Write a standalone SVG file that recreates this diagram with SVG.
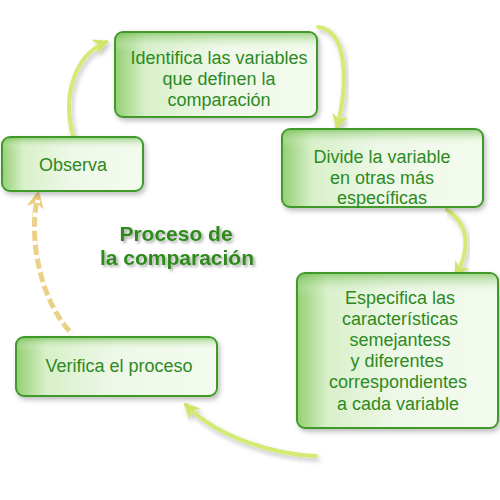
<svg xmlns="http://www.w3.org/2000/svg" width="500" height="500" viewBox="0 0 500 500">
<defs>
  <linearGradient id="boxg" x1="0" y1="0" x2="1" y2="0">
    <stop offset="0" stop-color="#94cf72"/>
    <stop offset="0.15" stop-color="#d8f0c9"/>
    <stop offset="0.5" stop-color="#eef8e8"/>
    <stop offset="1" stop-color="#f3fbee"/>
  </linearGradient>
  <linearGradient id="topg" x1="0" y1="0" x2="0" y2="1">
    <stop offset="0" stop-color="#6dbb4c" stop-opacity="0.6"/>
    <stop offset="0.22" stop-color="#ffffff" stop-opacity="0"/>
  </linearGradient>
  <filter id="sh" x="-10%" y="-10%" width="130%" height="130%">
    <feGaussianBlur in="SourceAlpha" stdDeviation="2.5"/>
    <feOffset dx="2" dy="3"/>
    <feComponentTransfer><feFuncA type="linear" slope="0.25"/></feComponentTransfer>
    <feMerge><feMergeNode/><feMergeNode in="SourceGraphic"/></feMerge>
  </filter>
  <filter id="tsh" x="-10%" y="-20%" width="130%" height="150%">
    <feGaussianBlur in="SourceAlpha" stdDeviation="1.5"/>
    <feOffset dx="2" dy="2"/>
    <feComponentTransfer><feFuncA type="linear" slope="0.35"/></feComponentTransfer>
    <feMerge><feMergeNode/><feMergeNode in="SourceGraphic"/></feMerge>
  </filter>
  <marker id="ah" viewBox="0 0 10 10" refX="8" refY="5" markerWidth="4" markerHeight="4" orient="auto">
    <path d="M0,0 L10,5 L0,10 L3,5 Z" fill="#cfe66a"/>
  </marker>
  <marker id="ahy" viewBox="0 0 10 10" refX="8" refY="5" markerWidth="3.5" markerHeight="3.5" orient="auto">
    <path d="M0,0 L10,5 L0,10 L3,5 Z" fill="#e9cc7c"/>
  </marker>
  <style>
    .box { fill: url(#boxg); stroke: #3f9a2c; stroke-width: 2; filter: url(#sh); }
    .gloss { fill: url(#topg); stroke: none; }
    .t { font-family: "Liberation Sans", Arial, sans-serif; font-size: 18px; fill: #2d8a1f; text-anchor: middle; }
    .title { font-family: "Liberation Sans", Arial, sans-serif; font-size: 21px; font-weight: bold; fill: #2f8a1c; text-anchor: middle; filter: url(#tsh); }
    .arr { fill: none; stroke: #d3ea74; stroke-width: 4; stroke-linecap: round; marker-end: url(#ah); filter: url(#sh); }
    .arry { fill: none; stroke: #ebd088; stroke-width: 5; marker-end: url(#ahy); }
  </style>
</defs>
<rect width="500" height="500" fill="#ffffff"/>

<g id="connectors">
  <path class="arr" d="M73,135 C62,95 75,55 106,42"/>
  <path class="arr" d="M318,27 C348,30 348,85 337,127"/>
  <path class="arr" d="M447,210 C470,225 470,250 456,275"/>
  <path class="arr" d="M316,456 C280,455 220,440 186,405"/>
  <path class="arry" d="M72,334 C40,300 28,240 38,194"/>
  <path d="M72,334 C40,300 28,240 38,200" fill="none" stroke="#ffffff" stroke-width="5" stroke-dasharray="4 10"/>
</g>

<g id="n1">
  <rect class="box" x="115" y="32" width="202" height="85" rx="8"/>
  <rect class="gloss" x="116" y="33" width="200" height="83" rx="7"/>
  <text class="t" x="219" y="64">Identifica las variables</text>
  <text class="t" x="219" y="85">que definen la</text>
  <text class="t" x="219" y="106">comparación</text>
</g>

<g id="n2">
  <rect class="box" x="282" y="129" width="201" height="78" rx="8"/>
  <rect class="gloss" x="283" y="130" width="199" height="76" rx="7"/>
  <text class="t" x="382" y="163">Divide la variable</text>
  <text class="t" x="382" y="184">en otras más</text>
  <text class="t" x="382" y="204">específicas</text>
</g>

<g id="n3">
  <rect class="box" x="297" y="273" width="201" height="155" rx="8"/>
  <rect class="gloss" x="298" y="274" width="199" height="100" rx="7"/>
  <text class="t" x="400" y="304">Especifica las</text>
  <text class="t" x="400" y="325">características</text>
  <text class="t" x="400" y="346">semejantess</text>
  <text class="t" x="397" y="367">y diferentes</text>
  <text class="t" x="398" y="388">correspondientes</text>
  <text class="t" x="398" y="410">a cada variable</text>
</g>

<g id="n4">
  <rect class="box" x="2" y="137" width="141" height="54" rx="8"/>
  <rect class="gloss" x="3" y="138" width="139" height="52" rx="7"/>
  <text class="t" x="73" y="171">Observa</text>
</g>

<g id="n5">
  <rect class="box" x="16" y="337" width="201" height="59" rx="8"/>
  <rect class="gloss" x="17" y="338" width="199" height="57" rx="7"/>
  <text class="t" x="119" y="372">Verifica el proceso</text>
</g>

<g id="title">
  <text class="title" x="176" y="241">Proceso de</text>
  <text class="title" x="177" y="265">la comparación</text>
</g>
</svg>
